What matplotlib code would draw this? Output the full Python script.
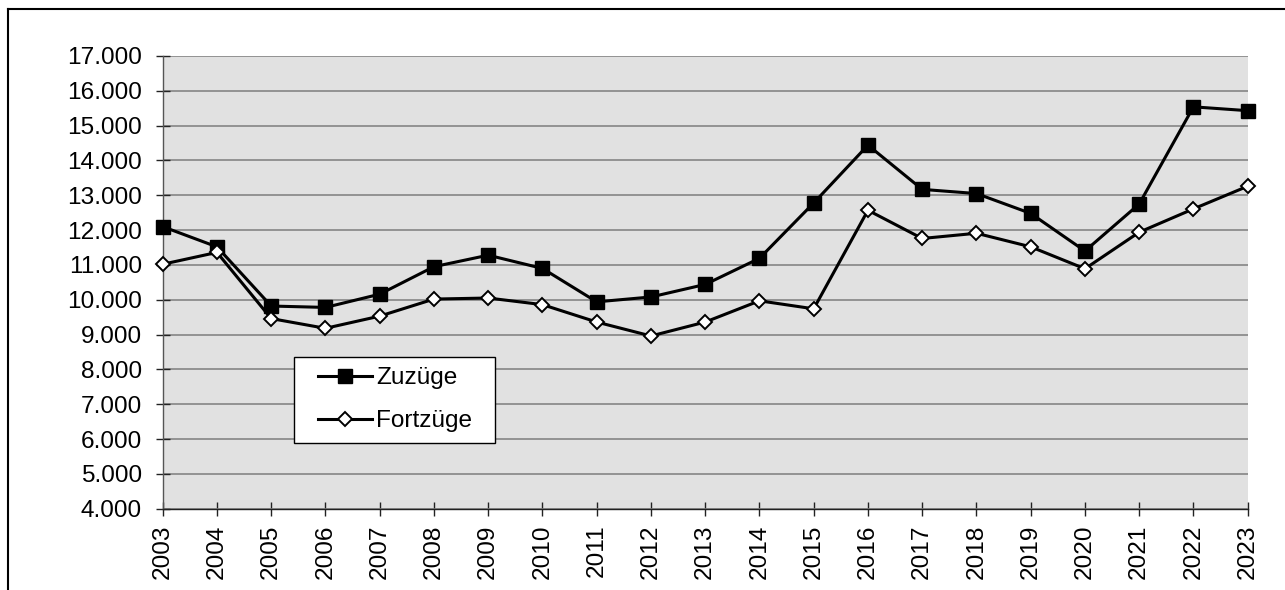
import matplotlib
matplotlib.use("Agg")
import matplotlib.pyplot as plt
from matplotlib.ticker import FuncFormatter, MultipleLocator
from matplotlib.lines import Line2D
from matplotlib.patches import Rectangle

plt.rcParams["font.family"] = ["Liberation Sans", "DejaVu Sans"]

years = list(range(2003, 2024))
zuzuege = [12100, 11520, 9820, 9780, 10160, 10950, 11280, 10900, 9940, 10080,
           10440, 11190, 12780, 14440, 13170, 13050, 12480, 11400, 12750, 15540, 15430]
fortzuege = [11020, 11360, 9460, 9180, 9530, 10020, 10050, 9860, 9360, 8960,
             9360, 9970, 9740, 12570, 11760, 11910, 11520, 10890, 11940, 12610, 13260]
labels = ["Zuzüge", "Fortzüge"]

W, H = 1285, 590
fig = plt.figure(figsize=(W / 100, H / 100), dpi=100)

# plot area in pixels: x 162.7..1247.7, y 56..508.7
ax = fig.add_axes([162.7 / W, (H - 508.7) / H, (1247.7 - 162.7) / W, (508.7 - 56) / H])
ax.set_facecolor("#e1e1e1")

ax.plot(years, zuzuege, color="black", lw=2.2, marker="s", ms=10,
        mfc="black", mec="black", label=labels[0], zorder=3, clip_on=False)
ax.plot(years, fortzuege, color="black", lw=2.2, marker="D", ms=6.8,
        mfc="white", mec="black", mew=1.4, label=labels[1], zorder=3, clip_on=False)

ax.set_xlim(2003, 2023)
ax.set_ylim(4000, 17000)
ax.set_xticks(years)
ax.set_xticklabels([str(y) for y in years], rotation=90)
ax.yaxis.set_major_locator(MultipleLocator(1000))
ax.yaxis.set_major_formatter(FuncFormatter(lambda v, p: f"{int(v):,}".replace(",", ".")))

ax.grid(axis="y", color="#858585", lw=1.2, zorder=1)
ax.set_axisbelow(True)
for s in ["top", "right"]:
    ax.spines[s].set_visible(False)
ax.spines["left"].set_color("#555555")
ax.spines["bottom"].set_color("#222222")
ax.spines["left"].set_linewidth(1.0)
ax.spines["bottom"].set_linewidth(1.0)

ax.tick_params(axis="y", direction="inout", length=10, width=1, pad=10,
               labelsize=17.6, colors="#222222", labelcolor="black")
ax.tick_params(axis="x", direction="inout", length=10, width=1, pad=6.5,
               labelsize=17.6, colors="#222222", labelcolor="black")

# legend box
fig.patches.append(Rectangle((294 / W, 1 - 443 / H), (495 - 294) / W, (443 - 357) / H,
                             transform=fig.transFigure, facecolor="white",
                             edgecolor="black", lw=1.0, zorder=4))
leg = fig.legend(loc="upper left", bbox_to_anchor=(311 / W, 1 - 360 / H),
                 frameon=False, fontsize=17.6, handlelength=2.2, handletextpad=0.15,
                 labelspacing=0.85, borderpad=0.3, borderaxespad=0)
leg.set_zorder(5)

# outer frame
fig.lines.append(Line2D([8 / W, 8 / W], [0, 1 - 9 / H], transform=fig.transFigure,
                        color="black", lw=1.5))
fig.lines.append(Line2D([8 / W, 1], [1 - 9 / H, 1 - 9 / H], transform=fig.transFigure,
                        color="black", lw=1.5))

fig.savefig("out.png", dpi=100)
